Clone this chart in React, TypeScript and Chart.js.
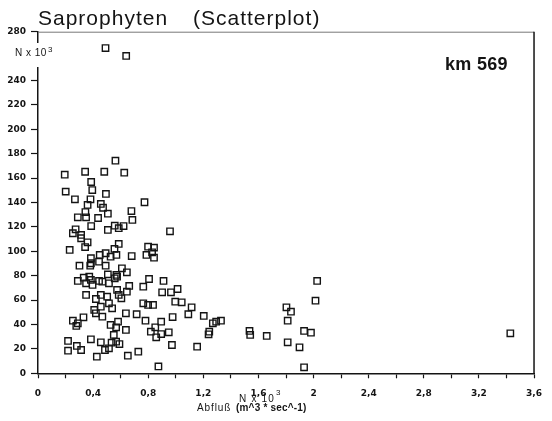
import { useEffect, useRef } from "react";
import { Chart, registerables } from "chart.js";

Chart.register(...registerables);

const titleLeft = "Saprophyten";
const titleRight = "(Scatterplot)";
const stationLabel = "km 569";
const unitLabel = "N x 10";
const unitExponent = "3";
const xAxisName = "Abfluß";
const xAxisUnit = "(m^3 * sec^-1)";
const hiddenYTicks = [260];

// Abfluß (x, m^3/s, thousands) and Saprophyten (y, N x 10^3)
const abfluss = [
  0.49, 0.64,
  0.562, 0.194, 0.342, 0.481, 0.626, 0.386, 0.201, 0.394, 0.493, 0.268, 0.381, 0.773,
  0.36, 0.456, 0.472, 0.507, 0.678, 0.344, 0.289, 0.349, 0.436, 0.685, 0.273, 0.386,
  0.507, 0.557, 0.621, 0.958,
  0.253, 0.313, 0.586, 0.313, 0.36, 0.342, 0.23, 0.586, 0.555, 0.799, 0.842, 0.828,
  0.384, 0.448, 0.491, 0.527, 0.569, 0.68, 0.787, 0.842, 0.384, 0.443, 0.379, 0.491,
  0.301, 0.609, 0.507, 0.645, 0.569, 0.332, 0.289, 0.372, 0.384, 0.443, 0.467, 0.515,
  0.557, 0.574, 0.806, 0.764, 0.349, 0.396, 0.574, 0.662, 0.645, 0.349, 0.456, 0.502,
  0.586, 0.605, 0.42,
  0.456, 0.515, 0.538, 0.764, 0.799, 0.835, 0.408, 0.42, 0.467, 0.638, 0.716, 0.253,
  0.289, 0.278, 0.33, 0.527, 0.581, 0.567, 0.78, 0.851, 0.819, 0.638, 0.55, 0.858,
  0.218, 0.384, 0.456, 0.534, 0.567, 0.591, 0.282, 0.218, 0.313, 0.486, 0.515, 0.427,
  0.652, 0.728, 0.874,
  0.911, 0.901, 0.965, 1.013, 0.996, 1.043, 1.115, 1.091, 0.977, 1.203, 0.894, 0.894,
  0.949, 0.972, 1.269, 1.293, 1.328, 1.243, 1.238, 1.155, 1.535, 1.54, 1.66, 1.803,
  1.836, 1.812, 1.812, 1.898, 1.931, 1.981, 2.026, 2.014, 1.931, 3.428,
];

const saprophyten = [
  266.6, 260.1,
  174.3, 162.8, 165.2, 165.2, 164.4, 156.8, 148.9, 150.2, 147.0, 142.6, 142.6, 140.2,
  138.0, 138.8, 135.7, 130.8, 133.0, 132.2, 127.9, 127.9, 127.3, 125.7, 118.0, 120.7,
  117.5, 121.0, 120.7, 116.4,
  114.8, 113.4, 118.9, 110.7, 107.4, 103.5, 101.1, 106.0, 101.9, 103.8, 103.0, 99.2,
  94.3, 97.0, 98.4, 95.6, 97.0, 96.1, 97.0, 94.8, 90.2, 91.5, 88.2, 88.2,
  88.2, 86.1, 81.1, 82.8, 80.6, 78.4, 75.7, 79.2, 76.5, 75.7, 75.1, 73.8,
  77.9, 79.2, 77.3, 71.0, 73.8, 72.4, 68.3, 71.6, 66.9, 64.2, 64.2, 62.8,
  64.2, 61.5, 60.9,
  54.6, 57.4, 53.3, 57.4, 56.0, 56.0, 51.9, 49.2, 46.4, 49.2, 48.4, 43.1,
  41.0, 38.8, 45.9, 39.6, 42.3, 37.7, 43.1, 37.7, 34.1, 35.5, 31.4, 29.5,
  26.5, 27.9, 25.4, 25.1, 25.9, 24.0, 22.4, 18.5, 19.1, 19.1, 20.5, 13.6,
  14.4, 17.7, 5.6,
  75.7, 66.4, 66.4, 69.1, 58.7, 58.2, 54.1, 48.4, 46.1, 47.0, 42.3, 32.2,
  33.6, 23.2, 41.0, 42.3, 43.1, 34.1, 32.0, 21.8, 34.7, 31.4, 30.6, 54.1,
  50.5, 43.1, 25.4, 21.3, 34.7, 33.3, 75.7, 59.5, 4.9, 32.8,
];

const ink = "#141414";

export default function App() {
  const canvasRef = useRef<HTMLCanvasElement>(null);

  useEffect(() => {
    document.body.style.margin = "0";
    const canvas = canvasRef.current;
    if (!canvas) return;
    const points = abfluss.map((x, i) => ({ x, y: saprophyten[i] }));

    const overlay = {
      id: "overlay",
      afterDraw(chart: any) {
        const { ctx, chartArea: a } = chart;
        ctx.save();
        // frame top and right
        ctx.strokeStyle = "#777";
        ctx.lineWidth = 1;
        ctx.beginPath();
        ctx.moveTo(a.left, a.top + 0.5);
        ctx.lineTo(a.right, a.top + 0.5);
        ctx.stroke();
        ctx.strokeStyle = ink;
        ctx.lineWidth = 1.5;
        ctx.beginPath();
        ctx.moveTo(a.right, a.top);
        ctx.lineTo(a.right, a.bottom);
        ctx.stroke();

        // gap in y axis for unit label
        ctx.fillStyle = "#fff";
        ctx.fillRect(a.left - 10, 43, 14, 24);

        ctx.fillStyle = ink;
        ctx.textBaseline = "alphabetic";
        ctx.textAlign = "left";

        // title
        ctx.font = "21px 'Liberation Sans', Arial, sans-serif";
        (ctx as any).letterSpacing = "1px";
        ctx.fillText(titleLeft, 38, 25);
        ctx.fillText(titleRight, 193, 25);

        // station
        ctx.font = "bold 18px 'Liberation Sans', Arial, sans-serif";
        (ctx as any).letterSpacing = "0.3px";
        ctx.fillText(stationLabel, 445, 70);

        // y unit label
        ctx.font = "10px 'Liberation Sans', Arial, sans-serif";
        (ctx as any).letterSpacing = "0.5px";
        ctx.fillText(unitLabel, 15, 56);
        let w = ctx.measureText(unitLabel).width;
        ctx.font = "8px 'Liberation Sans', Arial, sans-serif";
        ctx.fillText(unitExponent, 15 + w + 1, 52);

        // x unit label
        ctx.font = "10px 'Liberation Sans', Arial, sans-serif";
        (ctx as any).letterSpacing = "1.2px";
        ctx.fillText(unitLabel, 239, 401.5);
        w = ctx.measureText(unitLabel).width;
        ctx.font = "8px 'Liberation Sans', Arial, sans-serif";
        ctx.fillText(unitExponent, 239 + w + 1, 395);

        // x axis title
        ctx.font = "10px 'Liberation Sans', Arial, sans-serif";
        (ctx as any).letterSpacing = "0.9px";
        ctx.fillText(xAxisName, 197, 410.5);
        ctx.font = "bold 10px 'Liberation Sans', Arial, sans-serif";
        (ctx as any).letterSpacing = "0.2px";
        ctx.fillText(xAxisUnit, 236, 410.5);
        ctx.restore();
      },
    };

    const tickFont = { family: "'DejaVu Sans', sans-serif", weight: "bold" as const, size: 9 };

    const chart = new Chart(canvas, {
      type: "scatter",
      data: {
        datasets: [
          {
            data: points,
            pointStyle: "rect",
            pointRadius: 4.5,
            pointHoverRadius: 4.5,
            borderWidth: 1.4,
            borderColor: ink,
            backgroundColor: "rgba(255,255,255,0)",
          },
        ],
      },
      options: {
        animation: false,
        responsive: true,
        maintainAspectRatio: false,
        events: [],
        layout: { padding: { left: 0, top: 31.7, right: 9.5, bottom: 0 } },
        plugins: {
          legend: { display: false },
          tooltip: { enabled: false },
          title: { display: false },
        },
        scales: {
          x: {
            type: "linear",
            position: "bottom",
            min: 0,
            max: 3.6,
            grid: {
              drawOnChartArea: false,
              drawTicks: true,
              tickLength: 5,
              tickColor: ink,
              tickWidth: 1.2,
            },
            border: { display: true, color: ink, width: 1.5 },
            ticks: {
              stepSize: 0.2,
              autoSkip: false,
              maxRotation: 0,
              padding: 10,
              color: ink,
              font: tickFont,
              callback: (v: any) => {
                const t = Math.round(Number(v) * 10);
                return t % 4 === 0 ? String(t / 10).replace(".", ",") : "";
              },
            },
            afterFit: (s: any) => {
              s.height = 47.7;
            },
          },
          y: {
            type: "linear",
            min: 0,
            max: 280,
            grid: {
              drawOnChartArea: false,
              drawTicks: true,
              tickLength: 7,
              tickColor: ink,
              tickWidth: 1.2,
            },
            border: { display: true, color: ink, width: 1.5 },
            ticks: {
              stepSize: 20,
              autoSkip: false,
              padding: 5,
              color: ink,
              font: tickFont,
              callback: (v: any) => (hiddenYTicks.includes(Number(v)) ? "" : String(v)),
            },
            afterFit: (s: any) => {
              s.width = 38;
            },
          },
        },
      },
      plugins: [overlay],
    });

    return () => chart.destroy();
  }, []);

  return (
    <div style={{ width: 552, height: 421, position: "relative", background: "#fff" }}>
      <canvas ref={canvasRef} />
    </div>
  );
}
